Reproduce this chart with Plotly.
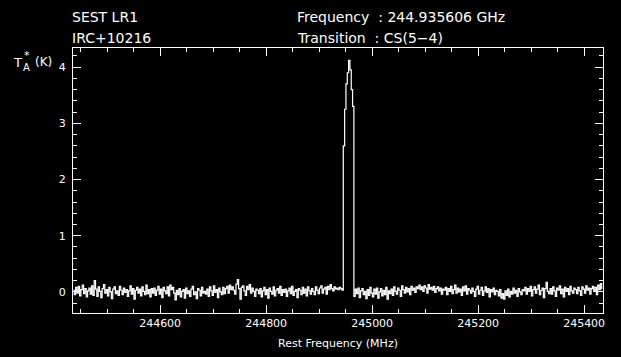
import plotly.graph_objects as go

# ---- data ----
f_start = 244435.606      # MHz, left edge of first channel
chan_width = 2.5          # MHz per channel
header_left = ["SEST LR1", "IRC+10216"]
header_right = ["Frequency  : 244.935606 GHz", "Transition  : CS(5\u22124)"]
x_title = "Rest Frequency (MHz)"
x_tickvals = [244600, 244800, 245000, 245200, 245400]
y_tickvals = [0, 1, 2, 3, 4]

t_a = [
    0.03,-0.05,0.08,-0.02,0.10,-0.07,0.04,0.12,-0.03,0.06,-0.09,0.02,0.07,-0.04,0.11,-0.06,0.20,0.05,-0.08,0.09,
    0.01,-0.10,0.06,0.13,-0.02,0.04,-0.07,0.08,0.00,-0.12,0.05,0.09,-0.03,0.02,-0.06,0.10,0.03,-0.05,0.07,-0.01,
    0.04,-0.08,0.02,0.11,-0.04,0.06,-0.13,0.03,0.08,-0.02,0.05,-0.07,0.09,0.01,-0.05,0.12,-0.03,0.04,-0.09,0.06,
    -0.02,0.07,-0.06,0.03,0.10,-0.04,0.05,-0.10,0.08,0.02,-0.03,0.09,-0.07,0.12,0.04,0.08,-0.02,-0.14,0.03,-0.05,
    0.06,-0.09,0.01,0.04,-0.11,0.07,-0.03,0.02,-0.08,0.05,0.10,-0.05,0.00,-0.12,0.06,0.03,-0.07,0.08,-0.02,0.01,
    -0.04,0.05,-0.08,0.09,0.02,-0.06,0.11,-0.01,0.04,-0.10,0.07,0.00,-0.05,0.08,-0.03,0.06,0.10,-0.02,0.12,0.04,
    0.09,0.03,-0.04,0.14,0.22,0.06,-0.13,0.08,0.11,0.02,-0.06,0.10,0.04,0.13,-0.02,0.07,0.01,-0.08,0.05,0.03,
    -0.03,0.06,-0.09,0.02,0.08,-0.05,0.04,-0.11,0.07,0.01,-0.04,0.09,-0.07,0.03,0.06,-0.02,0.10,-0.06,0.04,-0.01,
    0.05,-0.08,0.02,0.07,-0.03,0.10,-0.06,0.01,0.04,-0.10,0.06,0.03,-0.05,0.08,-0.02,0.05,-0.07,0.09,0.02,-0.04,
    0.06,0.01,-0.05,0.09,0.03,-0.03,0.07,0.11,-0.02,0.05,0.08,-0.04,0.10,0.04,0.13,0.06,0.02,0.09,0.05,0.07,
    0.04,0.08,0.06,0.03,2.60,3.25,3.70,3.90,4.12,3.95,3.60,3.30,-0.08,0.05,-0.03,0.07,-0.10,0.02,0.06,-0.05,
    0.01,-0.12,0.04,-0.06,0.08,-0.02,-0.09,0.05,-0.04,0.07,-0.11,0.00,0.06,-0.07,0.03,-0.05,0.08,-0.13,0.02,-0.03,
    0.05,-0.06,0.09,0.01,-0.04,0.07,0.03,-0.08,0.11,0.04,-0.02,0.08,0.00,0.06,-0.05,0.10,0.03,0.07,-0.01,0.09,
    0.06,0.12,0.04,0.09,0.01,0.11,0.07,-0.02,0.13,0.05,0.08,0.03,0.10,-0.01,0.06,0.09,0.02,0.07,-0.04,0.05,
    0.03,0.08,-0.05,0.06,0.01,0.10,-0.03,0.04,0.12,-0.02,0.07,0.00,0.05,-0.06,0.09,0.02,0.11,-0.04,0.06,0.03,
    -0.02,0.07,0.01,-0.08,0.05,0.10,-0.04,0.03,0.08,-0.06,0.02,0.09,-0.01,0.06,-0.09,0.04,0.00,0.07,-0.05,0.03,
    0.01,-0.07,0.04,-0.11,-0.03,-0.13,0.02,-0.06,0.05,-0.09,0.01,-0.04,0.07,-0.02,0.03,-0.08,0.06,0.00,-0.05,0.04,
    0.02,0.08,-0.04,0.06,0.01,0.10,-0.07,0.04,0.09,-0.02,0.05,0.12,-0.05,0.03,0.07,-0.10,0.06,0.17,0.01,-0.03,
    0.06,-0.04,0.09,0.02,-0.08,0.07,0.03,0.11,-0.03,0.05,-0.09,0.08,0.01,0.06,-0.05,0.10,0.02,-0.02,0.07,0.04,
    -0.03,0.08,0.02,-0.06,0.09,0.05,-0.02,0.11,0.03,0.07,-0.04,0.06,0.10,0.01,0.08,-0.05,0.12,0.04,0.15,0.06,
]
freq = [f_start + chan_width * (i + 0.5) for i in range(len(t_a))]

# ---- layout geometry ----
W, H = 621, 357
L, R, T, B = 73, 18, 48, 44
PW, PH = W - L - R, H - T - B

def px(x):
    return (x - L) / PW

def py(y):
    return (H - B - y) / PH

FONT = "DejaVu Sans"
WHITE = "white"

fig = go.Figure()
fig.add_trace(go.Scatter(x=freq, y=t_a, mode="lines",
                         line=dict(color=WHITE, width=1.2, shape="hvh"),
                         hoverinfo="skip", showlegend=False))

axis_common = dict(showgrid=False, zeroline=False, showline=True, linecolor=WHITE,
                   linewidth=1, mirror="allticks", ticks="inside", ticklen=8,
                   tickwidth=1, tickcolor=WHITE, automargin=False,
                   tickfont=dict(family=FONT, size=11, color=WHITE))

fig.update_xaxes(range=[f_start, f_start + chan_width * len(t_a)],
                 tickvals=x_tickvals, tickformat="d",
                 minor=dict(dtick=50, tick0=0, ticks="inside", ticklen=4,
                            tickcolor=WHITE, tickwidth=1, showgrid=False),
                 title=dict(text=x_title, font=dict(family=FONT, size=11, color=WHITE),
                            standoff=10),
                 **axis_common)
fig.update_yaxes(range=[-0.375, 4.34], tickvals=y_tickvals,
                 minor=dict(dtick=0.2, tick0=0, ticks="inside", ticklen=4,
                            tickcolor=WHITE, tickwidth=1, showgrid=False),
                 ticklabelstandoff=4,
                 **axis_common)

ann = []
def text(x, y, s, size=14, anchor="left"):
    ann.append(dict(x=px(x), y=py(y), xref="paper", yref="paper", text=s,
                    showarrow=False, xanchor=anchor, yanchor="middle",
                    font=dict(family=FONT, size=size, color=WHITE)))

text(70, 17, header_left[0])
text(70, 38, header_left[1])
text(295, 17, header_right[0])
text(295, 38, header_right[1])
# y-axis label T*_A (K)
text(11, 62, "T", size=13)
text(22, 55, "*", size=11)
text(21, 67, "A", size=10)
text(33, 62, "(K)", size=12)

fig.update_layout(width=W, height=H, margin=dict(l=L, r=R, t=T, b=B),
                  paper_bgcolor="black", plot_bgcolor="black",
                  annotations=ann, showlegend=False)

fig.write_html("out.html", config={"displayModeBar": False},
               post_script="document.body.style.margin='0';"
                           "document.body.style.background='black';"
                           "document.body.style.overflow='hidden';")
